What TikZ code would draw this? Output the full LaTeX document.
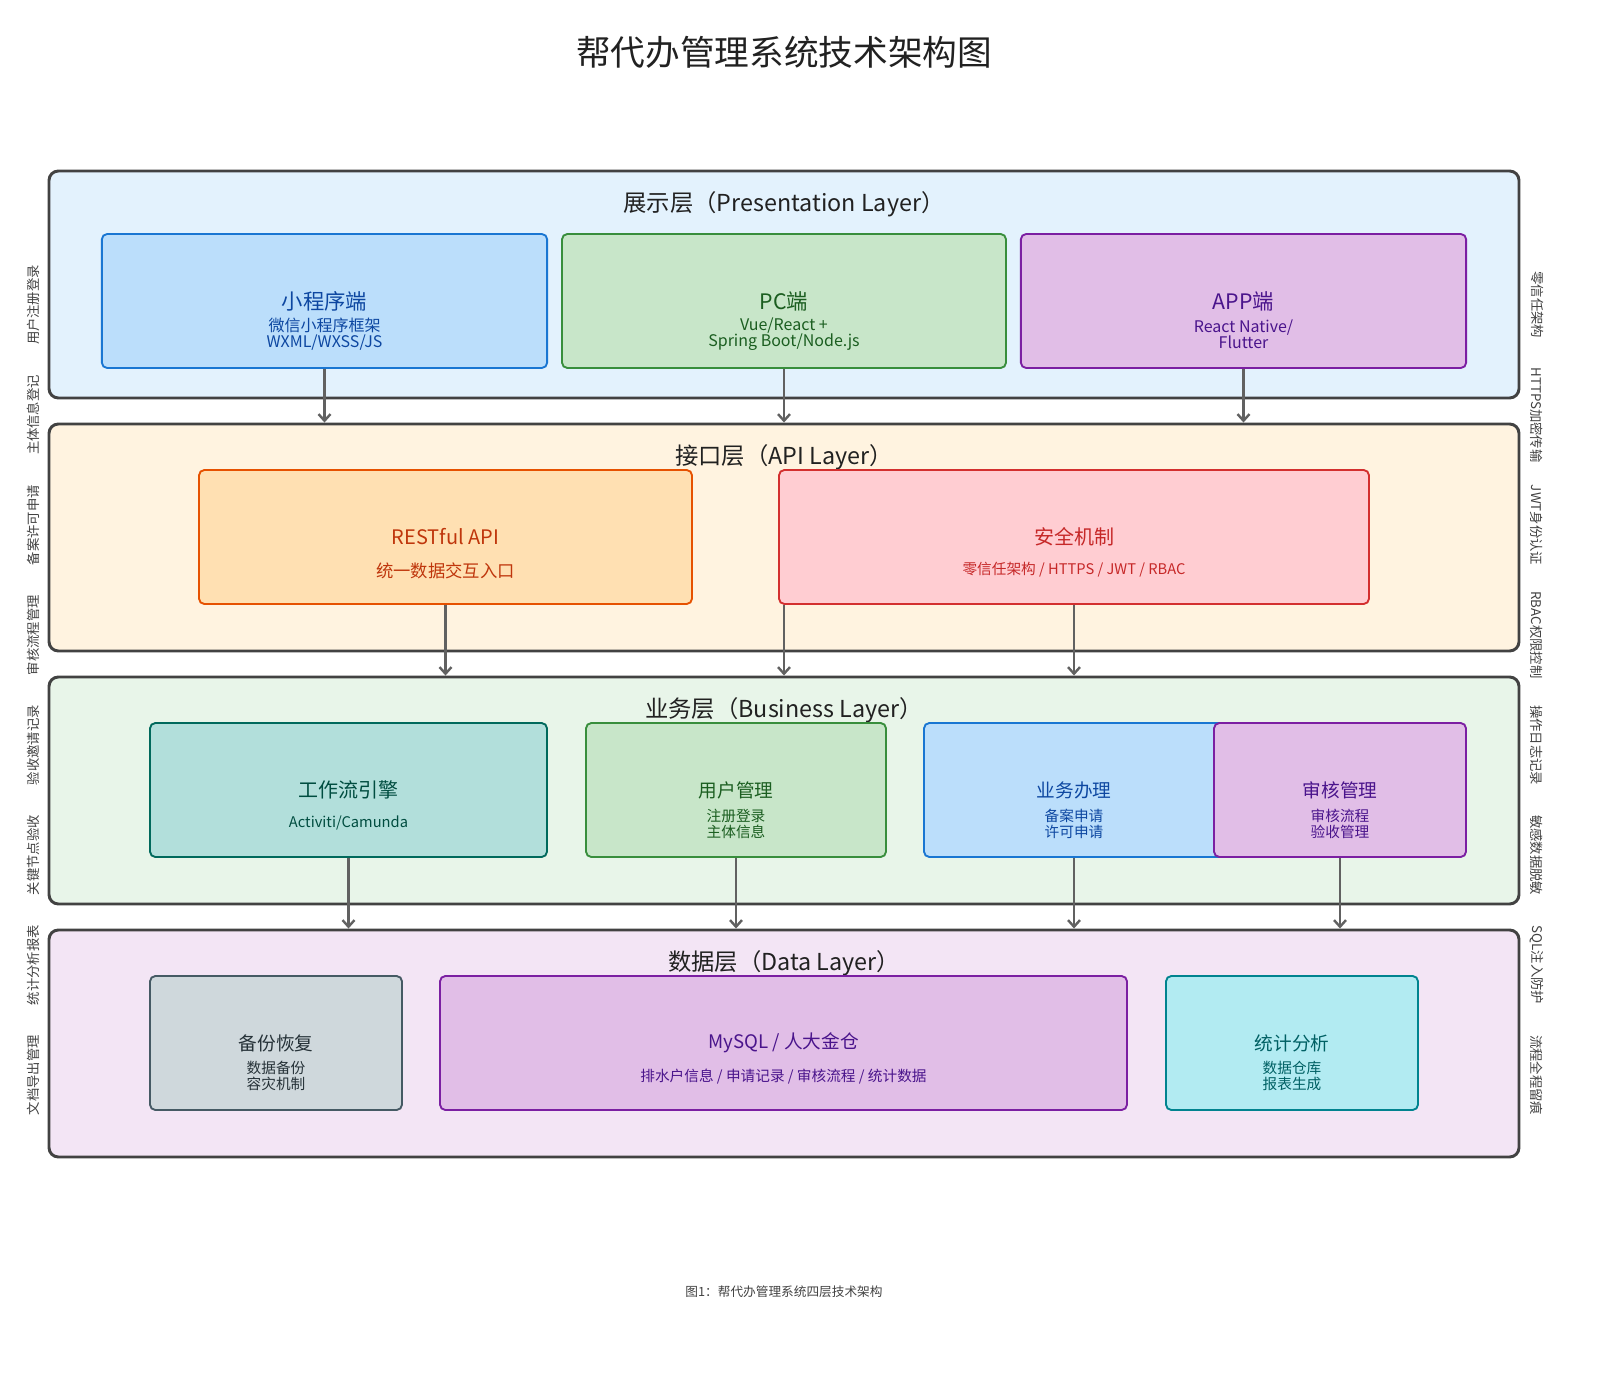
\documentclass[tikz,border=0pt]{standalone}
\usepackage{fontspec}
\setmainfont{Noto Sans CJK SC}
\usetikzlibrary{arrows.meta}

\definecolor{frameline}{HTML}{424242}
\definecolor{arrowgray}{HTML}{616161}
\definecolor{titletext}{HTML}{212121}
\definecolor{sidetext}{HTML}{424242}
\definecolor{presbg}{HTML}{E3F2FD}
\definecolor{apibg}{HTML}{FFF3E0}
\definecolor{bizbg}{HTML}{E8F5E9}
\definecolor{databg}{HTML}{F3E5F5}
\definecolor{bluefill}{HTML}{BBDEFB}\definecolor{blueline}{HTML}{1976D2}\definecolor{bluetext}{HTML}{0D47A1}
\definecolor{greenfill}{HTML}{C8E6C9}\definecolor{greenline}{HTML}{388E3C}\definecolor{greentext}{HTML}{1B5E20}
\definecolor{purplefill}{HTML}{E1BEE7}\definecolor{purpleline}{HTML}{7B1FA2}\definecolor{purpletext}{HTML}{4A148C}
\definecolor{orangefill}{HTML}{FFE0B2}\definecolor{orangeline}{HTML}{E65100}\definecolor{orangetext}{HTML}{BF360C}
\definecolor{redfill}{HTML}{FFCDD2}\definecolor{redline}{HTML}{D32F2F}\definecolor{redtext}{HTML}{C62828}
\definecolor{tealfill}{HTML}{B2DFDB}\definecolor{tealline}{HTML}{00695C}\definecolor{tealtext}{HTML}{004D40}
\definecolor{greyfill}{HTML}{CFD8DC}\definecolor{greyline}{HTML}{455A64}\definecolor{greytext}{HTML}{263238}
\definecolor{cyanfill}{HTML}{B2EBF2}\definecolor{cyanline}{HTML}{00838F}\definecolor{cyantext}{HTML}{006064}

\begin{document}
\begin{tikzpicture}[x=0.75pt,y=-0.75pt,
    layerframe/.style={draw=frameline,line width=2.2pt,rounded corners=7pt,inner sep=0pt,
      minimum width=1102.5pt,minimum height=170.25pt},
    layertitle/.style={font=\fontsize{17.5}{20}\selectfont,text=titletext},
    box/.style={line width=1.4pt,rounded corners=4pt,inner sep=0pt,minimum height=100.5pt,
      font=\fontsize{14}{16}\selectfont},
    bluebox/.style={box,draw=blueline,fill=bluefill,text=bluetext},
    greenbox/.style={box,draw=greenline,fill=greenfill,text=greentext},
    purplebox/.style={box,draw=purpleline,fill=purplefill,text=purpletext},
    orangebox/.style={box,draw=orangeline,fill=orangefill,text=orangetext},
    redbox/.style={box,draw=redline,fill=redfill,text=redtext},
    tealbox/.style={box,draw=tealline,fill=tealfill,text=tealtext},
    greybox/.style={box,draw=greyline,fill=greyfill,text=greytext},
    cyanbox/.style={box,draw=cyanline,fill=cyanfill,text=cyantext},
    subtext/.style={align=center,inner sep=0pt,font=\fontsize{11}{12}\selectfont},
    sidelabel/.style={font=\fontsize{10}{12}\selectfont,text=sidetext},
    flow/.style={draw=arrowgray,line width=1.8pt,-{Straight Barb[length=5pt,width=9pt]}}]

  \path[use as bounding box,fill=white] (0,0) rectangle (1600,1398);

  \node[font=\fontsize{26}{30}\selectfont,text=titletext] (title) at (784,52) {帮代办管理系统技术架构图};

  % layers
  \node[layerframe,fill=presbg] (preslayer) at (784,284.5) {};
  \node[layerframe,fill=apibg] (apilayer) at (784,537.5) {};
  \node[layerframe,fill=bizbg] (bizlayer) at (784,790.5) {};
  \node[layerframe,fill=databg] (datalayer) at (784,1043.5) {};

  \node[layertitle] (prestitle) at (784,204) {展示层（Presentation Layer）};
  \node[layertitle] (apititle) at (784,457) {接口层（API Layer）};
  \node[layertitle] (biztitle) at (784,710) {业务层（Business Layer）};
  \node[layertitle] (datatitle) at (784,963) {数据层（Data Layer）};

  % presentation
  \node[bluebox,minimum width=334pt,font=\fontsize{16}{18}\selectfont] (mini) at (324.5,301) {小程序端};
  \node[subtext,text=bluetext,font=\fontsize{12}{12}\selectfont] (mini-sub) at (324.5,334) {微信小程序框架\\WXML/WXSS/JS};
  \node[greenbox,minimum width=333pt,font=\fontsize{16}{18}\selectfont] (pc) at (784,301) {PC端};
  \node[subtext,text=greentext,font=\fontsize{12}{12}\selectfont] (pc-sub) at (784,334) {Vue/React +\\Spring Boot/Node.js};
  \node[purplebox,minimum width=334pt,font=\fontsize{16}{18}\selectfont] (app) at (1243.5,301) {APP端};
  \node[subtext,text=purpletext,font=\fontsize{12}{12}\selectfont] (app-sub) at (1243.5,334) {React Native/\\Flutter};

  % api
  \node[orangebox,minimum width=369.75pt,font=\fontsize{15}{18}\selectfont] (rest) at (445.5,537) {RESTful API};
  \node[subtext,text=orangetext,font=\fontsize{13}{14}\selectfont] (rest-sub) at (445.5,571) {统一数据交互入口};
  \node[redbox,minimum width=442.5pt,font=\fontsize{15}{18}\selectfont] (sec) at (1074,537) {安全机制};
  \node[subtext,text=redtext] (sec-sub) at (1074,570) {零信任架构 / HTTPS / JWT / RBAC};

  % business
  \node[tealbox,minimum width=297.75pt,font=\fontsize{15}{18}\selectfont] (flowengine) at (348.5,790) {工作流引擎};
  \node[subtext,text=tealtext] (flowengine-sub) at (348.5,823) {Activiti/Camunda};
  \node[greenbox,minimum width=225pt] (user) at (736,790) {用户管理};
  \node[subtext,text=greentext] (user-sub) at (736,824) {注册登录\\主体信息};
  \node[bluebox,minimum width=225pt] (biz) at (1074,790) {业务办理};
  \node[subtext,text=bluetext] (biz-sub) at (1074,824) {备案申请\\许可申请};
  \node[purplebox,minimum width=189pt] (audit) at (1340,790) {审核管理};
  \node[subtext,text=purpletext] (audit-sub) at (1340,824) {审核流程\\验收管理};

  % data
  \node[greybox,minimum width=189pt] (backup) at (276,1043) {备份恢复};
  \node[subtext,text=greytext] (backup-sub) at (276,1076) {数据备份\\容灾机制};
  \node[purplebox,minimum width=515.25pt] (db) at (783.5,1043) {MySQL / 人大金仓};
  \node[subtext,text=purpletext] (db-sub) at (783.5,1077) {排水户信息 / 申请记录 / 审核流程 / 统计数据};
  \node[cyanbox,minimum width=189pt] (stats) at (1292,1043) {统计分析};
  \node[subtext,text=cyantext] (stats-sub) at (1292,1076) {数据仓库\\报表生成};

  % arrows
  \foreach \src in {mini,pc,app}
    \draw[flow] (\src.south) -- (\src.south |- apilayer.north);
  \draw[flow] (rest.south) -- (rest.south |- bizlayer.north);
  \draw[flow] (sec.south -| pc.south) -- (pc.south |- bizlayer.north);
  \draw[flow] (sec.south) -- (sec.south |- bizlayer.north);
  \foreach \src in {flowengine,user,biz,audit}
    \draw[flow] (\src.south) -- (\src.south |- datalayer.north);

  % side notes
  \foreach \lab [count=\i from 0] in {用户注册登录,主体信息登记,备案许可申请,审核流程管理,
      验收邀请记录,关键节点验收,统计分析报表,文档导出管理}
    \node[sidelabel,rotate=90] (left-\i) at (33,{305+110*\i}) {\lab};
  \foreach \lab [count=\i from 0] in {零信任架构,HTTPS加密传输,JWT身份认证,RBAC权限控制,
      操作日志记录,敏感数据脱敏,SQL注入防护,流程全程留痕}
    \node[sidelabel,rotate=-90] (right-\i) at (1537,{305+110*\i}) {\lab};

  \node[font=\fontsize{9.5}{11}\selectfont,text=sidetext] (caption) at (784,1292) {图1：帮代办管理系统四层技术架构};

\end{tikzpicture}
\end{document}
